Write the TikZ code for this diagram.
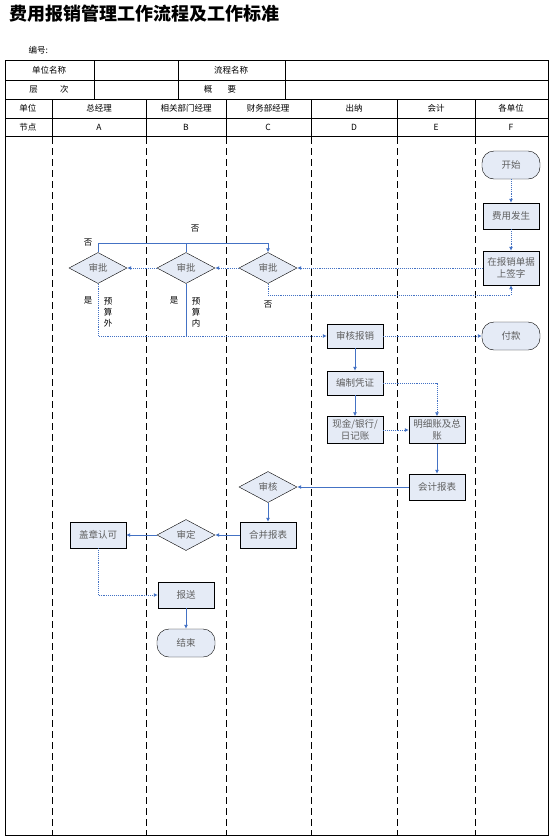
\documentclass[tikz,border=0pt]{standalone}
\usepackage{fontspec}
\setmainfont{Noto Sans CJK SC}
\usetikzlibrary{positioning,arrows.meta,calc,shapes.geometric}
\definecolor{lblue}{RGB}{68,114,196}
\definecolor{nfill}{RGB}{229,235,246}
\definecolor{ntext}{RGB}{95,95,95}

\begin{document}
\begin{tikzpicture}[x=1pt,y=-1pt,font=\fontsize{8.5}{10}\selectfont,
    proc/.style={draw,thin,fill=nfill,text=ntext,minimum width=56pt,minimum height=26pt,
      inner sep=1pt,align=center,font=\fontsize{9.5}{12}\selectfont},
    term/.style={proc,rounded corners=12pt,minimum width=58pt,minimum height=28pt},
    dec/.style={draw,thin,diamond,aspect=2,fill=nfill,text=ntext,minimum width=58pt,
      minimum height=31pt,inner sep=0pt,font=\fontsize{9.5}{12}\selectfont},
    flow/.style={lblue,line width=0.9pt,-{Latex[length=4pt,width=4pt]}},
    dflow/.style={flow,densely dotted},
    lane/.style={thin,dash pattern=on 7pt off 4pt},
    lbl/.style={inner sep=0pt,align=center}]
  \useasboundingbox (0,0) rectangle (553,839);
  % title and header table
  \node[anchor=west,font=\fontsize{18}{19}\bfseries] (title) at (6,14) {费用报销管理工作流程及工作标准};
  \node[anchor=west] (num) at (25,50) {编号:};
  \draw[thin] (5,60) rectangle (548,835);
  \foreach \y in {80,99,118,136} {\draw[thin] (5,\y)--(548,\y);}
  \foreach \x in {94,178,285} {\draw[thin] (\x,60)--(\x,99);}
  \foreach \x in {52,146,226,311,397,475} {\draw[thin] (\x,99)--(\x,136);}
  \node (h1) at (49,70) {单位名称};
  \node (h2) at (231,70) {流程名称};
  \node (h3) at (49,89) {层\hspace{2.6em}次};
  \node (h4) at (220,89) {概\hspace{1.8em}要};
  \node (u0) at (28,108) {单位};
  \node (u1) at (99,108) {总经理};
  \node (u2) at (186,108) {相关部门经理};
  \node (u3) at (268,108) {财务部经理};
  \node (u4) at (354,108) {出纳};
  \node (u5) at (436,108) {会计};
  \node (u6) at (511,108) {各单位};
  \node (n0) at (28,127) {节点};
  \node (nA) at (99,127) {A};
  \node (nB) at (186,127) {B};
  \node (nC) at (268,127) {C};
  \node (nD) at (354,127) {D};
  \node (nE) at (436,127) {E};
  \node (nF) at (511,127) {F};
  % swim lanes
  \foreach \x in {52,146,226,311,397,475} {\draw[lane] (\x,137)--(\x,835);}
  % nodes
  \node[term] (start) at (511,165) {开始};
  \node[proc] (occur) at (511,216) {费用发生};
  \node[proc,minimum height=34pt] (sign) at (511,268) {在报销单据\\上签字};
  \node[dec] (chkA) at (98,268) {审批};
  \node[dec] (chkB) at (186,268) {审批};
  \node[dec] (chkC) at (268,268) {审批};
  \node[proc,minimum height=24pt] (audit) at (355,336) {审核报销};
  \node[term] (pay) at (511,336) {付款};
  \node[proc,minimum height=24pt] (voucher) at (355,383) {编制凭证};
  \node[proc,minimum height=27pt] (cash) at (355,430) {现金/银行/\\日记账};
  \node[proc,minimum height=27pt] (ledger) at (437,430) {明细账及总\\账};
  \node[proc] (report) at (437,487) {会计报表};
  \node[dec] (review) at (268,487) {审核};
  \node[proc] (merge) at (268,535) {合并报表};
  \node[dec] (approve) at (186,535) {审定};
  \node[proc] (stamp) at (98,535) {盖章认可};
  \node[proc] (submit) at (186,595) {报送};
  \node[term] (finish) at (186,643) {结束};
  % labels
  \node[lbl] (noA) at (88,243) {否};
  \node[lbl] (noB) at (195,229) {否};
  \node[lbl] (noC) at (268,305) {否};
  \node[lbl] (yesA) at (88,300) {是};
  \node[lbl] (yesB) at (174,300) {是};
  \node[lbl,font=\fontsize{8.5}{11}\selectfont] (outA) at (108,312) {预\\算\\外};
  \node[lbl,font=\fontsize{8.5}{11}\selectfont] (inB) at (196,312) {预\\算\\内};
  % connectors
  \coordinate (topA) at (98,243);
  \coordinate (botA) at (98,336);
  \coordinate (botC) at (268,295);
  \draw[dflow] (start) -- (occur);
  \draw[dflow] (occur) -- (sign);
  \draw[dflow] (sign.west) -- (chkC.east);
  \draw[dflow] (chkC.south) -- (botC) -| (sign.south);
  \draw[dflow] (chkC.west) -- (chkB.east);
  \draw[dflow] (chkB.west) -- (chkA.east);
  \draw[flow] (chkA.north) -- (topA) -| (chkC.north);
  \draw[flow,-] (chkB.north) -- (chkB.north |- topA);
  \draw[dflow] (chkA.south) -- (botA) -- (audit.west);
  \draw[flow,-] (chkB.south) -- (chkB.south |- botA);
  \draw[dflow] (audit) -- (pay);
  \draw[flow] (audit) -- (voucher);
  \draw[dflow] (voucher.east) -| (ledger.north);
  \draw[flow] (voucher) -- (cash);
  \draw[dflow] (cash) -- (ledger);
  \draw[flow] (ledger) -- (report);
  \draw[flow] (report) -- (review);
  \draw[flow] (review) -- (merge);
  \draw[flow] (merge) -- (approve);
  \draw[flow] (approve) -- (stamp);
  \draw[dflow] (stamp.south) |- (submit.west);
  \draw[flow] (submit) -- (finish);
\end{tikzpicture}
\end{document}
